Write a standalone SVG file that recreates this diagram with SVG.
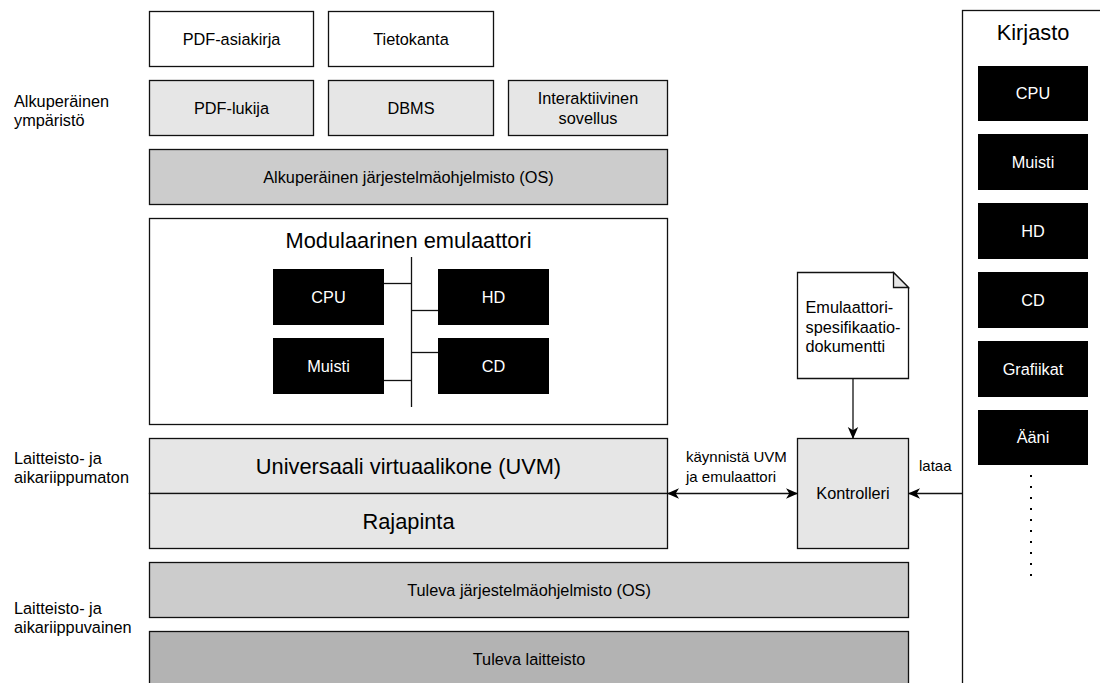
<svg xmlns="http://www.w3.org/2000/svg" width="1100" height="683" viewBox="0 0 1100 683">
  <style>
    text { font-family: "Liberation Sans", Arial, sans-serif; fill: #000; }
    .t14 { font-size: 16.3px; }
    .t20 { font-size: 21.8px; }
    .edge-label { font-size: 15px; }
    .c { text-anchor: middle; }
    .box { stroke: #111; stroke-width: 1.3; }
    .white { fill: #ffffff; }
    .light { fill: #e6e6e6; }
    .mid { fill: #cccccc; }
    .dark { fill: #b3b3b3; }
    .chip { fill: #000000; }
    .chip-text { fill: #ffffff; font-size: 16.3px; text-anchor: middle; }
    .wire { fill: none; stroke: #111; stroke-width: 1.3; }
  </style>
  <defs>
    <marker id="arrow" viewBox="0 0 12 12" refX="11" refY="6" markerWidth="12" markerHeight="12" markerUnits="userSpaceOnUse" orient="auto-start-reverse">
      <path d="M0,0.8 L12,6 L0,11.2 L3.3,6 z" fill="#000"/>
    </marker>
  </defs>

  <!-- side labels -->
  <g id="labels" class="t14">
    <text x="14" y="106.5">Alkuperäinen</text>
    <text x="14" y="126">ympäristö</text>
    <text x="14" y="463.5">Laitteisto- ja</text>
    <text x="14" y="483">aikariippumaton</text>
    <text x="14" y="613.5">Laitteisto- ja</text>
    <text x="14" y="633">aikariippuvainen</text>
  </g>

  <!-- data -->
  <g id="pdf-asiakirja"><rect class="box white" x="149.5" y="11.5" width="164" height="55"/><text class="t14 c" x="231.5" y="45">PDF-asiakirja</text></g>
  <g id="tietokanta"><rect class="box white" x="328.5" y="11.5" width="165" height="55"/><text class="t14 c" x="411" y="45">Tietokanta</text></g>

  <!-- applications -->
  <g id="pdf-lukija"><rect class="box light" x="149.5" y="80.5" width="164" height="55"/><text class="t14 c" x="231.5" y="114">PDF-lukija</text></g>
  <g id="dbms"><rect class="box light" x="328.5" y="80.5" width="165" height="55"/><text class="t14 c" x="411" y="114">DBMS</text></g>
  <g id="interaktiivinen"><rect class="box light" x="508.5" y="80.5" width="159" height="55"/><text class="t14 c" x="588" y="104">Interaktiivinen</text><text class="t14 c" x="588" y="123.6">sovellus</text></g>

  <!-- original OS -->
  <g id="alkuperainen-os"><rect class="box mid" x="149.5" y="149.5" width="518" height="55"/><text class="t14 c" x="408.5" y="183">Alkuperäinen järjestelmäohjelmisto (OS)</text></g>

  <!-- modular emulator -->
  <g id="emulaattori">
    <rect class="box white" x="149.5" y="218.5" width="518" height="206"/>
    <text class="t20 c" x="408.5" y="248">Modulaarinen emulaattori</text>
    <g id="emu-cpu"><rect class="chip" x="273" y="269" width="111" height="56"/><text class="chip-text" x="328.5" y="303">CPU</text></g>
    <g id="emu-muisti"><rect class="chip" x="273" y="338" width="111" height="56"/><text class="chip-text" x="328.5" y="372">Muisti</text></g>
    <g id="emu-hd"><rect class="chip" x="438" y="269" width="111" height="56"/><text class="chip-text" x="493.5" y="303">HD</text></g>
    <g id="emu-cd"><rect class="chip" x="438" y="338" width="111" height="56"/><text class="chip-text" x="493.5" y="372">CD</text></g>
  </g>

  <!-- UVM + interface -->
  <g id="uvm"><rect class="box light" x="149.5" y="438.5" width="518" height="55"/><text class="t20 c" x="408.5" y="474">Universaali virtuaalikone (UVM)</text></g>
  <g id="rajapinta"><rect class="box light" x="149.5" y="493.5" width="518" height="55"/><text class="t20 c" x="408.5" y="529">Rajapinta</text></g>

  <!-- future platform -->
  <g id="tuleva-os"><rect class="box mid" x="149.5" y="562.5" width="759" height="55"/><text class="t14 c" x="529" y="596">Tuleva järjestelmäohjelmisto (OS)</text></g>
  <g id="tuleva-laitteisto"><rect class="box dark" x="149.5" y="631.5" width="759" height="60"/><text class="t14 c" x="529" y="665">Tuleva laitteisto</text></g>

  <!-- spec document -->
  <g id="spesifikaatio">
    <path class="box white" d="M797.5,272.5 H893.5 L908.5,287.5 V378.5 H797.5 Z"/>
    <path d="M893.5,272.5 V287.5 H908.5 Z" fill="#e6e6e6" stroke="#111" stroke-width="1.3"/>
    <text class="t14" x="805.5" y="313">Emulaattori-</text>
    <text class="t14" x="805.5" y="332.6">spesifikaatio-</text>
    <text class="t14" x="805.5" y="352.2">dokumentti</text>
  </g>

  <!-- controller -->
  <g id="kontrolleri"><rect class="box light" x="797.5" y="438.5" width="111" height="110"/><text class="t14 c" x="853" y="499">Kontrolleri</text></g>

  <!-- library -->
  <g id="kirjasto">
    <rect class="box white" x="962.5" y="10.5" width="160" height="690"/>
    <text class="t20 c" x="1033" y="40">Kirjasto</text>
    <g id="lib-cpu"><rect class="chip" x="978" y="66" width="110" height="55"/><text class="chip-text" x="1033" y="99">CPU</text></g>
    <g id="lib-muisti"><rect class="chip" x="978" y="134" width="110" height="56"/><text class="chip-text" x="1033" y="168">Muisti</text></g>
    <g id="lib-hd"><rect class="chip" x="978" y="203" width="110" height="56"/><text class="chip-text" x="1033" y="237">HD</text></g>
    <g id="lib-cd"><rect class="chip" x="978" y="272" width="110" height="56"/><text class="chip-text" x="1033" y="306">CD</text></g>
    <g id="lib-grafiikat"><rect class="chip" x="978" y="341" width="110" height="56"/><text class="chip-text" x="1033" y="375">Grafiikat</text></g>
    <g id="lib-aani"><rect class="chip" x="978" y="410" width="110" height="55"/><text class="chip-text" x="1033" y="443">Ääni</text></g>
    <line x1="1031" y1="475" x2="1031" y2="578" stroke="#000" stroke-width="2" stroke-dasharray="2 9"/>
  </g>

  <!-- connectors -->
  <g id="connectors">
    <!-- emulator bus -->
    <line class="wire" x1="411.5" y1="257" x2="411.5" y2="407"/>
    <line class="wire" x1="384" y1="283.5" x2="411.5" y2="283.5"/>
    <line class="wire" x1="411.5" y1="310.5" x2="438" y2="310.5"/>
    <line class="wire" x1="411.5" y1="352.5" x2="438" y2="352.5"/>
    <line class="wire" x1="384" y1="380.5" x2="411.5" y2="380.5"/>
    <!-- spec to controller -->
    <line class="wire" x1="853" y1="378.5" x2="853" y2="438" marker-end="url(#arrow)"/>
    <!-- controller starts UVM and emulator -->
    <line class="wire" x1="668" y1="493.5" x2="797" y2="493.5" marker-start="url(#arrow)" marker-end="url(#arrow)"/>
    <text class="edge-label" x="686" y="462">käynnistä UVM</text>
    <text class="edge-label" x="686" y="481.6">ja emulaattori</text>
    <!-- library loads into controller -->
    <line class="wire" x1="962.5" y1="493.5" x2="909" y2="493.5" marker-end="url(#arrow)"/>
    <text class="edge-label" x="919" y="471">lataa</text>
  </g>
</svg>
